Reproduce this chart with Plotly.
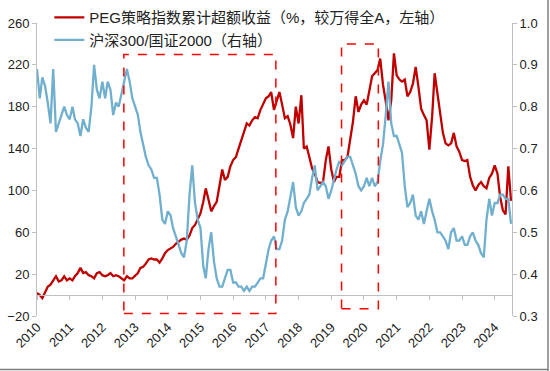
import plotly.graph_objects as go
import pandas as pd

# ---- data (monthly readings, 2010-01 .. 2024-07) ----
months = pd.date_range("2010-01-01", periods=175, freq="MS")

peg_excess = [
    2, 0, -3, 2, 8, 10, 14, 18, 13, 14, 18, 14,
    16, 14, 18, 21, 26, 21, 22, 19, 18, 16, 21, 22,
    19, 18, 19, 21, 18, 19, 18, 16, 14, 18, 16, 16,
    19, 21, 26, 27, 30, 34, 35, 34, 34, 31, 35, 40,
    43, 45, 46, 49, 51, 53, 54, 53, 57, 64, 67, 73,
    78, 89, 102, 91, 80, 85, 89, 104, 120, 110, 113, 123,
    129, 132, 140, 147, 155, 164, 162, 167, 170, 169, 177, 183,
    188, 190, 194, 177, 185, 194, 182, 169, 171, 163, 150, 180,
    164, 191, 140, 142, 132, 121, 116, 108, 107, 108, 129, 142,
    120, 108, 113, 113, 129, 129, 132, 148, 166, 190, 175, 182,
    186, 182, 196, 209, 212, 215, 226, 201, 185, 167, 186, 231,
    210, 206, 204, 206, 190, 194, 202, 218, 199, 178, 172, 167,
    139, 171, 212, 193, 175, 155, 145, 143, 145, 155, 142, 137,
    129, 128, 129, 113, 105, 100, 105, 108, 104, 102, 112, 116,
    124, 116, 94, 81, 77, 123, 90,
]

hs300_gz2000 = [
    0.89, 0.82, 0.87, 0.85, 0.81, 0.76, 0.89, 0.74, 0.76, 0.78, 0.80, 0.78,
    0.77, 0.80, 0.77, 0.76, 0.73, 0.77, 0.75, 0.74, 0.80, 0.90, 0.84, 0.82,
    0.86, 0.82, 0.86, 0.84, 0.78, 0.81, 0.80, 0.83, 0.86, 0.89, 0.86, 0.82,
    0.80, 0.78, 0.74, 0.71, 0.68, 0.66, 0.65, 0.63, 0.63, 0.59, 0.53, 0.52,
    0.55, 0.54, 0.51, 0.49, 0.47, 0.45, 0.44, 0.48, 0.59, 0.66, 0.57, 0.53,
    0.51, 0.42, 0.39, 0.46, 0.50, 0.43, 0.39, 0.37, 0.37, 0.39, 0.41, 0.41,
    0.38, 0.38, 0.37, 0.37, 0.36, 0.37, 0.36, 0.37, 0.37, 0.38, 0.39, 0.39,
    0.43, 0.46, 0.48, 0.49, 0.46, 0.46, 0.48, 0.53, 0.55, 0.59, 0.62, 0.56,
    0.54, 0.55, 0.57, 0.58, 0.59, 0.63, 0.66, 0.60, 0.61, 0.62, 0.61, 0.58,
    0.60, 0.63, 0.65, 0.67, 0.66, 0.67, 0.68, 0.68, 0.66, 0.64, 0.61, 0.60,
    0.61, 0.63, 0.61, 0.63, 0.61, 0.62, 0.67, 0.71, 0.78, 0.86, 0.76, 0.73,
    0.73, 0.71, 0.69, 0.61, 0.56, 0.57, 0.59, 0.54, 0.53, 0.55, 0.52, 0.55,
    0.58, 0.55, 0.53, 0.50, 0.50, 0.49, 0.48, 0.46, 0.50, 0.51, 0.48, 0.48,
    0.49, 0.47, 0.47, 0.49, 0.50, 0.48, 0.47, 0.45, 0.44, 0.53, 0.58, 0.54,
    0.57, 0.57, 0.59, 0.59, 0.58, 0.58, 0.52,
]

year_labels = [str(y) for y in range(2010, 2025)]
year_ticks = [f"{y}-01-01" for y in range(2010, 2025)]
left_ticks = [-20, 20, 60, 100, 140, 180, 220, 260]
right_ticks = [0.3, 0.4, 0.5, 0.6, 0.7, 0.8, 0.9, 1.0]

# highlighted periods (start, end, bottom, top on left axis)
box_starts = ["2012-08-28", "2019-04-26"]
box_ends = ["2017-04-22", "2020-06-10"]
box_bottoms = [-17.5, -13]
box_tops = [230, 240]

RED = "#C00000"
BLUE = "#70B0CE"
AX = "#BFBFBF"
FONT = "Liberation Sans, Arial, Noto Sans CJK SC, sans-serif"

fig = go.Figure()
fig.add_trace(go.Scatter(
    x=months, y=peg_excess, mode="lines",
    name="PEG策略指数累计超额收益（%，较万得全A，左轴）",
    line=dict(color=RED, width=2.3), xaxis="x", yaxis="y",
))
fig.add_trace(go.Scatter(
    x=months, y=hs300_gz2000, mode="lines",
    name="沪深300/国证2000（右轴）",
    line=dict(color=BLUE, width=2.3), xaxis="x2", yaxis="y2",
))

for x0, x1, y0, y1 in zip(box_starts, box_ends, box_bottoms, box_tops):
    fig.add_shape(type="rect", xref="x", yref="y", x0=x0, x1=x1, y0=y0, y1=y1,
                  line=dict(color="#FF0000", width=1.5, dash="dash"),
                  fillcolor="rgba(0,0,0,0)", layer="above")

xr = ["2010-01-01", "2024-07-12"]
zero_pos = (0 - left_ticks[0]) / (left_ticks[-1] - left_ticks[0])

fig.update_layout(
    width=550, height=371,
    margin=dict(l=37, r=38, t=23, b=55, autoexpand=False),
    paper_bgcolor="white", plot_bgcolor="white",
    font=dict(family=FONT, size=13, color="#222222"),
    showlegend=True,
    legend=dict(x=0.026, y=1.075, xanchor="left", yanchor="top",
                bgcolor="rgba(0,0,0,0)", font=dict(size=15, color="#222222"),
                tracegroupgap=0, itemwidth=30),
    xaxis=dict(type="date", range=xr, tickvals=year_ticks, ticktext=year_labels,
               tickangle=-45, showline=False, ticks="", showgrid=False,
               zeroline=False, tickfont=dict(size=13), automargin=False),
    xaxis2=dict(type="date", range=xr, overlaying="x", anchor="free",
                position=zero_pos, tickvals=year_ticks, showticklabels=False,
                showline=True, linecolor=AX, linewidth=1, ticks="outside",
                ticklen=4, tickcolor=AX, showgrid=False, zeroline=False,
                automargin=False),
    yaxis=dict(range=[left_ticks[0], left_ticks[-1]], tickvals=left_ticks,
               showline=True, linecolor=AX, linewidth=1, ticks="outside",
               ticklen=4, tickcolor=AX, showgrid=False, zeroline=False,
               tickfont=dict(size=13), automargin=False),
    yaxis2=dict(range=[right_ticks[0], right_ticks[-1]], tickvals=right_ticks,
                tickformat=".1f", overlaying="y", side="right", anchor="x",
                showline=True, linecolor=AX, linewidth=1, ticks="outside",
                ticklen=4, tickcolor=AX, showgrid=False, zeroline=False,
                tickfont=dict(size=13), automargin=False),
)

# outer frame lines (right and bottom edge of the picture)
fig.add_shape(type="line", xref="paper", yref="paper", x0=1.0758, x1=1.0758,
              y0=-0.19, y1=1.08, line=dict(color="#7F7F7F", width=1.5))
fig.add_shape(type="line", xref="paper", yref="paper", x0=-0.08, x1=1.0758,
              y0=-0.183, y1=-0.183, line=dict(color="#7F7F7F", width=1.5))

fig.write_html("out.html", config={"displayModeBar": False},
               post_script="document.body.style.margin='0';")
